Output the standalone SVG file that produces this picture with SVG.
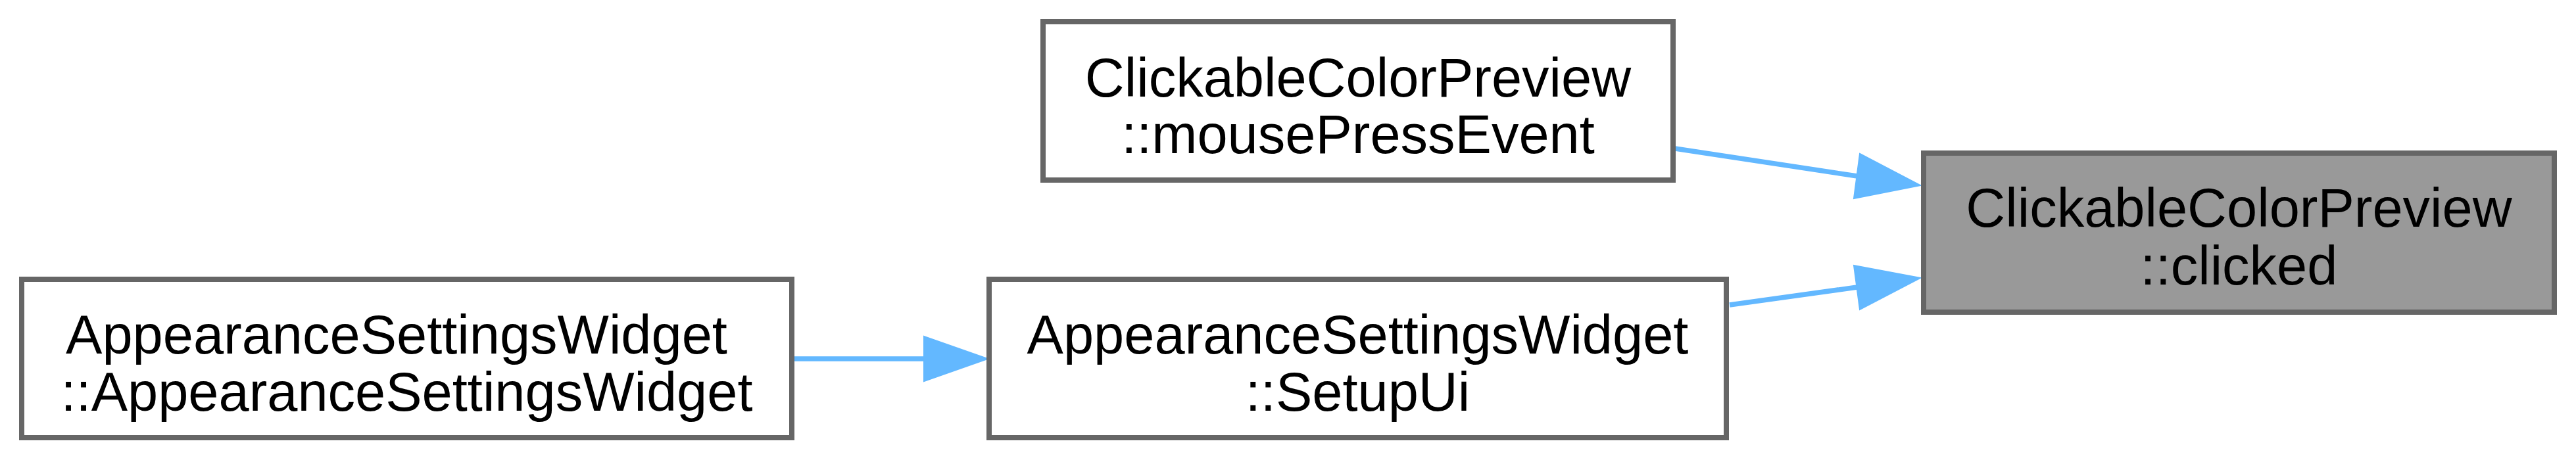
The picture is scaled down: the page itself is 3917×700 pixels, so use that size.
<svg xmlns="http://www.w3.org/2000/svg" width="3917" height="700" viewBox="0 0 3917 700">
<style>
.box{fill:#ffffff;stroke:#666666;stroke-width:8}
.hl{fill:#999999;stroke:#666666;stroke-width:8}
.lbl{font-family:"Liberation Sans",Arial,Helvetica,sans-serif;font-size:83px;fill:#000000;text-anchor:middle}
.edge{fill:none;stroke:#63b8ff;stroke-width:7.5}
.head{fill:#63b8ff;stroke:#63b8ff;stroke-width:2}
</style>
<rect width="3917" height="700" fill="#ffffff"/>
<g id="connectors">
<path class="edge" d="M1204,546 L1406,546"/>
<polygon class="head" points="1405,512 1502,546 1405,580"/>
<path class="edge" d="M2547,226 L2824,268"/>
<polygon class="head" points="2828,234 2920,282 2819,302"/>
<path class="edge" d="M2630,464 L2824,437"/>
<polygon class="head" points="2819,404 2920,423 2828,471"/>
</g>
<g id="node-ctor">
<rect class="box" x="33" y="425" width="1171" height="241"/>
<text class="lbl" x="603" y="538">AppearanceSettingsWidget</text>
<text class="lbl" x="618.5" y="625">::AppearanceSettingsWidget</text>
</g>
<g id="node-setupui">
<rect class="box" x="1504" y="425" width="1121" height="241"/>
<text class="lbl" x="2064.5" y="538">AppearanceSettingsWidget</text>
<text class="lbl" x="2064.5" y="625">::SetupUi</text>
</g>
<g id="node-mousepress">
<rect class="box" x="1586" y="33" width="958" height="241"/>
<text class="lbl" x="2065" y="147">ClickableColorPreview</text>
<text class="lbl" x="2065" y="233">::mousePressEvent</text>
</g>
<g id="node-clicked">
<rect class="hl" x="2925" y="233" width="959" height="242"/>
<text class="lbl" x="3404.5" y="345">ClickableColorPreview</text>
<text class="lbl" x="3404.5" y="433">::clicked</text>
</g>
</svg>
